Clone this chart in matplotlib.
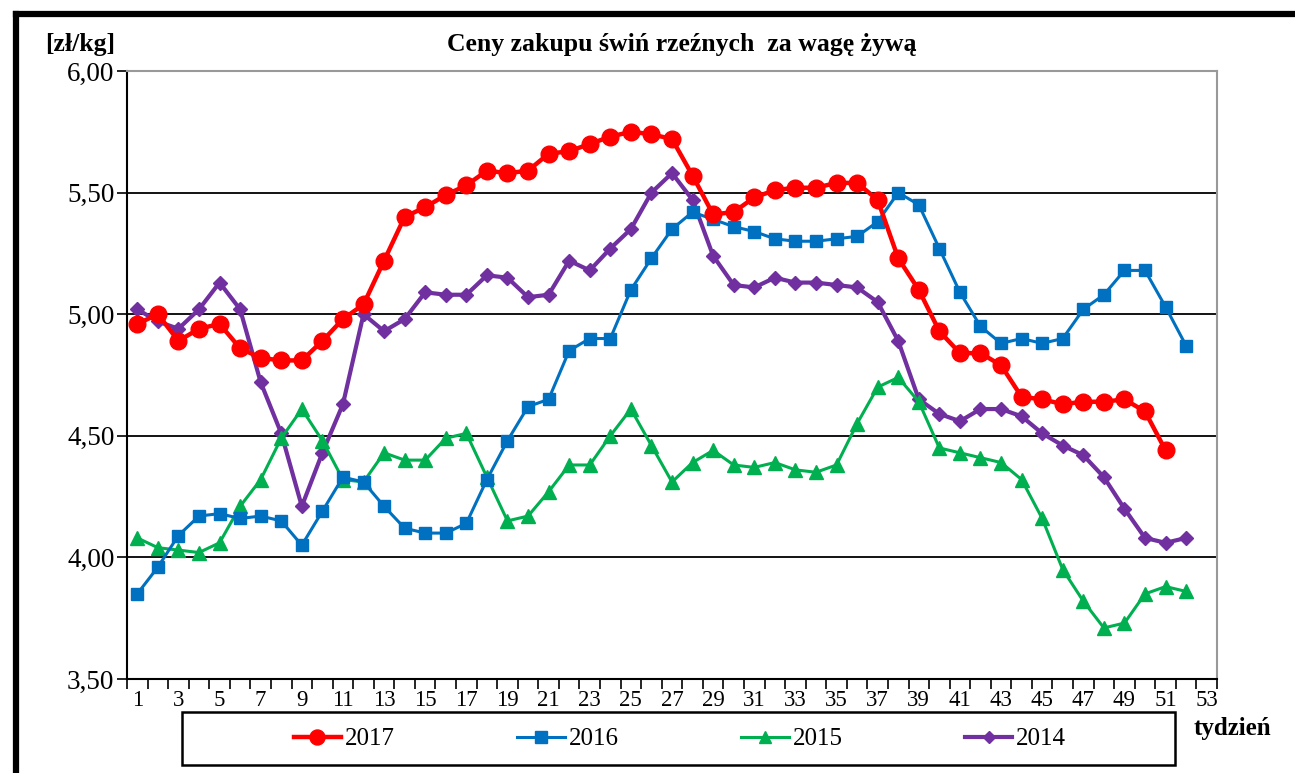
import numpy as np
import matplotlib.pyplot as plt
from matplotlib.patches import Rectangle
from matplotlib.lines import Line2D

plt.rcParams['font.family'] = ['Liberation Serif', 'DejaVu Serif']

tydzien = np.arange(1, 53)

ceny_2017 = [4.96, 5.00, 4.89, 4.94, 4.96, 4.86, 4.82, 4.81, 4.81, 4.89,
             4.98, 5.04, 5.22, 5.40, 5.44, 5.49, 5.53, 5.59, 5.58, 5.59,
             5.66, 5.67, 5.70, 5.73, 5.75, 5.74, 5.72, 5.57, 5.41, 5.42,
             5.48, 5.51, 5.52, 5.52, 5.54, 5.54, 5.47, 5.23, 5.10, 4.93,
             4.84, 4.84, 4.79, 4.66, 4.65, 4.63, 4.64, 4.64, 4.65, 4.60,
             4.44]

ceny_2016 = [3.85, 3.96, 4.09, 4.17, 4.18, 4.16, 4.17, 4.15, 4.05, 4.19,
             4.33, 4.31, 4.21, 4.12, 4.10, 4.10, 4.14, 4.32, 4.48, 4.62,
             4.65, 4.85, 4.90, 4.90, 5.10, 5.23, 5.35, 5.42, 5.39, 5.36,
             5.34, 5.31, 5.30, 5.30, 5.31, 5.32, 5.38, 5.50, 5.45, 5.27,
             5.09, 4.95, 4.88, 4.90, 4.88, 4.90, 5.02, 5.08, 5.18, 5.18,
             5.03, 4.87]

ceny_2015 = [4.08, 4.04, 4.03, 4.02, 4.06, 4.21, 4.32, 4.49, 4.61, 4.48,
             4.32, 4.31, 4.43, 4.40, 4.40, 4.49, 4.51, 4.33, 4.15, 4.17,
             4.27, 4.38, 4.38, 4.50, 4.61, 4.46, 4.31, 4.39, 4.44, 4.38,
             4.37, 4.39, 4.36, 4.35, 4.38, 4.55, 4.70, 4.74, 4.64, 4.45,
             4.43, 4.41, 4.39, 4.32, 4.16, 3.95, 3.82, 3.71, 3.73, 3.85,
             3.88, 3.86]

ceny_2014 = [5.02, 4.97, 4.94, 5.02, 5.13, 5.02, 4.72, 4.51, 4.21, 4.43,
             4.63, 5.00, 4.93, 4.98, 5.09, 5.08, 5.08, 5.16, 5.15, 5.07,
             5.08, 5.22, 5.18, 5.27, 5.35, 5.50, 5.58, 5.47, 5.24, 5.12,
             5.11, 5.15, 5.13, 5.13, 5.12, 5.11, 5.05, 4.89, 4.65, 4.59,
             4.56, 4.61, 4.61, 4.58, 4.51, 4.46, 4.42, 4.33, 4.20, 4.08,
             4.06, 4.08]

W, H = 1295, 773
fig = plt.figure(figsize=(W/100, H/100), dpi=100)
ax = fig.add_axes([127/W, 1 - 679/H, (1217-127)/W, (679-71)/H])

# outer frame: left and top thick lines
fig.add_artist(Line2D([16/W, 16/W], [0, 1 - 14/H], color='black', lw=4.5,
                      transform=fig.transFigure, solid_capstyle='projecting'))
fig.add_artist(Line2D([16/W, 1], [1 - 14/H, 1 - 14/H], color='black', lw=4.5,
                      transform=fig.transFigure, solid_capstyle='projecting'))

ax.plot(tydzien, ceny_2014, color='#7030A0', lw=3, marker='D', ms=7, label='2014', zorder=3)
ax.plot(tydzien, ceny_2015, color='#00B050', lw=2.2, marker='^', ms=10, label='2015', zorder=4)
ax.plot(tydzien, ceny_2016, color='#0070C0', lw=2.2, marker='s', ms=9, label='2016', zorder=5)
ax.plot(tydzien[:len(ceny_2017)], ceny_2017, color='#FF0000', lw=3.2, marker='o', ms=12,
        label='2017', zorder=6)

ax.set_xlim(0.5, 53.5)
ax.set_ylim(3.5, 6.0)
ax.set_yticks([3.5, 4.0, 4.5, 5.0, 5.5, 6.0])
ax.set_yticklabels(['3,50', '4,00', '4,50', '5,00', '5,50', '6,00'], fontsize=19.5)
ax.tick_params(axis='y', direction='out', length=7, width=1.2, pad=2)
ax.grid(axis='y', color='black', lw=1.3)
ax.set_axisbelow(True)

ax.set_xticks(np.arange(0.5, 54.0, 1.0))
ax.set_xticklabels([])
ax.set_xticks(np.arange(1, 54, 2), minor=True)
ax.set_xticklabels([str(i) for i in range(1, 54, 2)], minor=True, fontsize=16.5)
ax.tick_params(axis='x', which='major', direction='out', length=7, width=1.2)
ax.tick_params(axis='x', which='minor', length=0, pad=8)

for s in ['left', 'bottom']:
    ax.spines[s].set_color('black')
    ax.spines[s].set_linewidth(1.5)
for s in ['top', 'right']:
    ax.spines[s].set_color('#999999')
    ax.spines[s].set_linewidth(1.5)

fig.text(45/W, 1 - 45/H, '[zł/kg]', fontsize=18.5, fontweight='bold', va='center', ha='left')
fig.text(682/W, 1 - 45/H, 'Ceny zakupu świń rzeźnych  za wagę żywą', fontsize=18.5,
         fontweight='bold', va='center', ha='center')
fig.text(1232/W, 1 - 729/H, 'tydzień', fontsize=18, fontweight='bold', va='center', ha='center')

# legend box
fig.patches.append(Rectangle((182/W, 1 - 765/H), (1175-182)/W, (765-712)/H,
                             transform=fig.transFigure, fill=False,
                             edgecolor='black', linewidth=1.8))
handles, labels = ax.get_legend_handles_labels()
order = [3, 2, 1, 0]
fig.legend([handles[i] for i in order], [labels[i] for i in order], ncol=4,
           loc='center', bbox_to_anchor=(680/W, 1 - 739/H), fontsize=18,
           frameon=False, handlelength=1.9, columnspacing=4.9, handletextpad=0.15,
           markerscale=0.9)

fig.savefig('out.png', dpi=100)
